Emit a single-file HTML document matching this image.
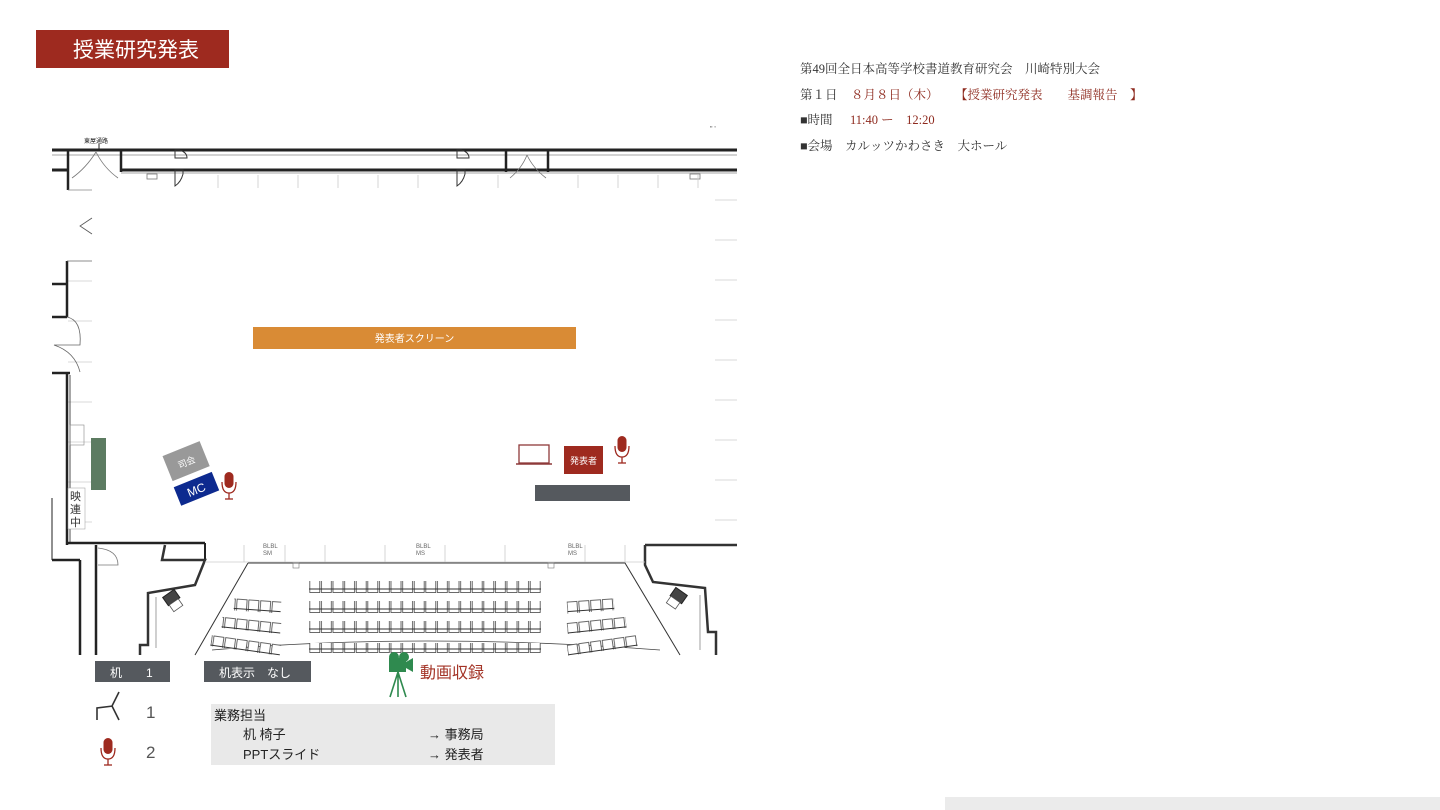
<!DOCTYPE html>
<html><head><meta charset="utf-8"><style>
body{margin:0;background:#fff;}
svg{display:block;font-family:"Liberation Sans","Noto Sans CJK JP",sans-serif;}
.s{font-family:"Liberation Serif","Noto Serif CJK SC",serif;}
</style></head><body>
<svg width="1440" height="810" viewBox="0 0 1440 810" xmlns="http://www.w3.org/2000/svg">
<defs>
<pattern id="seat" x="309" y="0" width="11.6" height="20" patternUnits="userSpaceOnUse">
<rect x="0.8" y="0.5" width="10" height="12" fill="#fff" stroke="#444" stroke-width="0.8"/>
<line x1="0" y1="9" x2="11.6" y2="9" stroke="#333" stroke-width="1"/>
</pattern>
<pattern id="seatL" x="0" y="0" width="11.8" height="20" patternUnits="userSpaceOnUse">
<rect x="0.8" y="0.5" width="10" height="13" fill="#fff" stroke="#444" stroke-width="0.8"/>
<line x1="0" y1="10" x2="11.8" y2="10" stroke="#333" stroke-width="1"/>
</pattern>
</defs>

<rect x="36" y="30" width="193" height="38" fill="#9e2a1f"/>
<text x="73" y="57" font-size="21" fill="#fff">授業研究発表</text>

<g class="s" font-size="12.5" fill="#333">
<text x="800" y="73" class="s">第49回全日本高等学校書道教育研究会　川崎特別大会</text>
<text x="800" y="99" class="s">第１日</text>
<text x="851" y="99" class="s" fill="#8e2a1e">８月８日（木）</text>
<text x="955" y="99" class="s" fill="#8e2a1e">【授業研究発表　　基調報告　】</text>
<text x="800" y="124" class="s">■時間</text>
<text x="850" y="124" class="s" fill="#8e2a1e">11:40 ー　12:20</text>
<text x="800" y="150" class="s">■会場　カルッツかわさき　大ホール</text>
</g>

<g stroke="#222" fill="none">
<line x1="52" y1="150" x2="737" y2="150" stroke-width="3"/>
<line x1="52" y1="155" x2="737" y2="155" stroke-width="0.7" stroke="#888"/>
<line x1="52" y1="170" x2="68" y2="170" stroke-width="3"/>
<line x1="121" y1="170" x2="737" y2="170" stroke-width="3"/>
<line x1="121" y1="173" x2="737" y2="173" stroke-width="0.7" stroke="#888"/>
<line x1="68" y1="150" x2="68" y2="190" stroke-width="2.5"/>
<line x1="68" y1="190" x2="92" y2="190" stroke-width="0.7" stroke="#888"/>
<line x1="121" y1="150" x2="121" y2="172" stroke-width="2.5"/>
<line x1="506" y1="150" x2="506" y2="172" stroke-width="2.5"/>
<line x1="548" y1="150" x2="548" y2="172" stroke-width="2.5"/>
<path d="M72 178 Q86 168 96 152 M118 178 Q104 168 96 152" stroke="#777" stroke-width="0.8"/>
<path d="M510 178 Q522 168 527 155 M546 178 Q533 168 527 155" stroke="#777" stroke-width="0.8"/>
<path d="M175 150 h4 q8 2 8 8 h-12 z M175 170 h8 v4 q-2 8 -8 12z" stroke="#333" stroke-width="1"/>
<path d="M457 150 h4 q8 2 8 8 h-12 z M457 170 h8 v4 q-2 8 -8 12z" stroke="#333" stroke-width="1"/>
<rect x="147" y="174" width="10" height="5" stroke="#777" stroke-width="0.8"/>
<rect x="690" y="174" width="10" height="5" stroke="#777" stroke-width="0.8"/>
</g>
<text x="84" y="143" font-size="6" fill="#222">東屋通路</text>
<line x1="99" y1="144" x2="99" y2="150" stroke="#222"/>
<g stroke="#ccc" stroke-width="0.8">
<line x1="218" y1="175" x2="218" y2="188"/><line x1="258" y1="175" x2="258" y2="188"/>
<line x1="298" y1="175" x2="298" y2="188"/><line x1="338" y1="175" x2="338" y2="188"/>
<line x1="378" y1="175" x2="378" y2="188"/><line x1="418" y1="175" x2="418" y2="188"/>
<line x1="498" y1="175" x2="498" y2="188"/><line x1="578" y1="175" x2="578" y2="188"/>
<line x1="618" y1="175" x2="618" y2="188"/><line x1="658" y1="175" x2="658" y2="188"/>
<line x1="698" y1="175" x2="698" y2="188"/>
<line x1="715" y1="200" x2="737" y2="200"/><line x1="715" y1="240" x2="737" y2="240"/>
<line x1="715" y1="280" x2="737" y2="280"/><line x1="715" y1="320" x2="737" y2="320"/>
<line x1="715" y1="360" x2="737" y2="360"/><line x1="715" y1="400" x2="737" y2="400"/>
<line x1="715" y1="440" x2="737" y2="440"/><line x1="715" y1="480" x2="737" y2="480"/>
<line x1="715" y1="520" x2="737" y2="520"/>
<line x1="68" y1="281" x2="92" y2="281"/><line x1="68" y1="321" x2="92" y2="321"/>
<line x1="68" y1="362" x2="92" y2="362"/><line x1="68" y1="402" x2="92" y2="402"/>
<line x1="68" y1="442" x2="92" y2="442"/><line x1="68" y1="482" x2="92" y2="482"/>
<line x1="68" y1="522" x2="92" y2="522"/>
</g>
<text x="710" y="131" font-size="7" fill="#555">" '</text>

<g stroke="#222" fill="none">
<path d="M92 218 L80 226 L92 234" stroke="#555" stroke-width="0.8"/>
<line x1="67" y1="261" x2="67" y2="317" stroke-width="2.5"/>
<line x1="67" y1="261" x2="92" y2="261" stroke-width="0.8" stroke="#666"/>
<line x1="52" y1="284" x2="67" y2="284" stroke-width="2.5"/>
<line x1="52" y1="317" x2="67" y2="317" stroke-width="2.5"/>
<path d="M67 317 Q82 320 80 345 Q65 345 54 345 Q75 352 80 372" stroke="#666" stroke-width="0.8"/>
<line x1="52" y1="373" x2="70" y2="373" stroke-width="2.5"/>
<line x1="67" y1="373" x2="67" y2="545" stroke-width="2.5"/>
<line x1="70" y1="375" x2="70" y2="543" stroke-width="0.8"/>
<line x1="67" y1="543" x2="205" y2="543" stroke-width="2.5"/>
<line x1="205" y1="543" x2="205" y2="560" stroke-width="2"/>
<line x1="52" y1="498" x2="52" y2="560" stroke-width="1"/>
<line x1="52" y1="560" x2="80" y2="560" stroke-width="2.5"/>
<line x1="80" y1="560" x2="80" y2="655" stroke-width="2.5"/>
<line x1="96" y1="545" x2="96" y2="655" stroke-width="2.5"/>
<path d="M98 548 Q118 550 118 565 L98 565" stroke="#777" stroke-width="0.8"/>
<path d="M165 545 L162 560 L205 560 L195 585 L148 593 L148 645 L140 645 L140 655" stroke="#333" stroke-width="2.5"/>
<path d="M156 597 L156 648" stroke="#888" stroke-width="0.8"/>
<path d="M645 545 L737 545 M645 545 L645 565 L653 582 L705 588 L708 632 L716 632 L716 655" stroke="#333" stroke-width="2.5"/>
<path d="M700 595 L700 650" stroke="#888" stroke-width="0.8"/>
</g>
<rect x="70" y="425" width="14" height="20" fill="none" stroke="#888" stroke-width="0.6"/>
<g font-size="11" fill="#333">
<rect x="68" y="488" width="17" height="41" fill="#fff" stroke="#999" stroke-width="0.5"/>
<text x="70" y="500">映</text><text x="70" y="513">連</text><text x="70" y="526">中</text>
</g>

<g stroke="#ccc" stroke-width="0.8">
<line x1="205" y1="562" x2="645" y2="562"/>
<line x1="244" y1="545" x2="244" y2="562"/><line x1="285" y1="545" x2="285" y2="562"/>
<line x1="325" y1="545" x2="325" y2="562"/><line x1="385" y1="545" x2="385" y2="562"/>
<line x1="445" y1="545" x2="445" y2="562"/><line x1="505" y1="545" x2="505" y2="562"/>
<line x1="585" y1="545" x2="585" y2="562"/><line x1="625" y1="545" x2="625" y2="562"/>
</g>
<g font-size="6" fill="#666">
<text x="263" y="548">BLBL</text><text x="263" y="555">SM</text>
<text x="416" y="548">BLBL</text><text x="416" y="555">MS</text>
<text x="568" y="548">BLBL</text><text x="568" y="555">MS</text>
</g>
<path d="M248 563 L625 563 L680 655 M248 563 L195 655" stroke="#333" stroke-width="1" fill="none"/>
<rect x="293" y="563" width="6" height="5" fill="none" stroke="#777" stroke-width="0.6"/>
<rect x="548" y="563" width="6" height="5" fill="none" stroke="#777" stroke-width="0.6"/>
<path d="M212 650 Q420 632 660 650" stroke="#444" stroke-width="0.8" fill="none"/>

<rect x="309" y="581" width="232" height="14" fill="url(#seat)"/>
<rect x="309" y="601" width="232" height="14" fill="url(#seat)"/>
<rect x="309" y="621" width="232" height="14" fill="url(#seat)"/>
<rect x="309" y="643" width="232" height="12" fill="url(#seat)"/>
<g transform="rotate(4 257 605)"><rect x="234" y="597" width="47" height="15" fill="url(#seatL)"/></g>
<g transform="rotate(6 252 624)"><rect x="222" y="616" width="59" height="15" fill="url(#seatL)"/></g>
<g transform="rotate(8 246 644)"><rect x="211" y="636" width="70" height="15" fill="url(#seatL)"/></g>
<g transform="rotate(-4 590 605)"><rect x="567" y="597" width="47" height="15" fill="url(#seatL)"/></g>
<g transform="rotate(-6 596 624)"><rect x="567" y="616" width="59" height="15" fill="url(#seatL)"/></g>
<g transform="rotate(-8 602 644)"><rect x="567" y="636" width="70" height="15" fill="url(#seatL)"/></g>

<g transform="rotate(-35 173 600)"><rect x="166" y="592" width="14" height="10" fill="#444" stroke="#222"/><rect x="167" y="602" width="11" height="8" fill="#fff" stroke="#555" stroke-width="0.8"/></g>
<g transform="rotate(35 677 598)"><rect x="670" y="590" width="14" height="10" fill="#444" stroke="#222"/><rect x="671" y="600" width="11" height="8" fill="#fff" stroke="#555" stroke-width="0.8"/></g>

<rect x="253" y="327" width="323" height="22" fill="#d98b35"/>
<text x="414.5" y="342" font-size="10" fill="#fff" text-anchor="middle">発表者スクリーン</text>

<rect x="91" y="438" width="15" height="52" fill="#5c7b61"/>

<g transform="rotate(-22 185 461)"><rect x="166" y="448" width="40" height="27" fill="#999"/><text x="186" y="466" font-size="9" fill="#fff" text-anchor="middle">司会</text></g>
<g transform="rotate(-22 196 489)"><rect x="176" y="479" width="41" height="20" fill="#0d2a8f"/><text x="196" y="494" font-size="12" fill="#fff" text-anchor="middle">MC</text></g>

<g id="mic" fill="#9e2a1f" stroke="#9e2a1f">
<rect x="224.5" y="472" width="9" height="16" rx="4.5" stroke="none"/>
<path d="M222 482 Q222 493 229 493 Q236 493 236 482" fill="none" stroke-width="1.3"/>
<line x1="229" y1="493" x2="229" y2="499" stroke-width="1.3"/>
<line x1="225" y1="499" x2="233" y2="499" stroke-width="1.3"/>
</g>
<use href="#mic" transform="translate(393 -36)"/>
<use href="#mic" transform="translate(-121 266)"/>

<rect x="519" y="445" width="30" height="18" fill="none" stroke="#8e3a3a" stroke-width="1.3"/>
<line x1="516" y1="464" x2="552" y2="464" stroke="#8e3a3a" stroke-width="1.5"/>
<rect x="564" y="446" width="39" height="28" fill="#9e2a1f"/>
<text x="583.5" y="464" font-size="9" fill="#fff" text-anchor="middle">発表者</text>
<rect x="535" y="485" width="95" height="16" fill="#55595e"/>

<rect x="95" y="661" width="75" height="21" fill="#55595e"/>
<text x="110" y="677" font-size="12" fill="#fff">机　　1</text>
<rect x="204" y="661" width="107" height="21" fill="#55595e"/>
<text x="219" y="677" font-size="12" fill="#fff">机表示　なし</text>
<path d="M97 720 L97 708 L113 706 M119 692 L112 706 L119 720" stroke="#333" stroke-width="1.6" fill="none"/>
<text x="146" y="718" font-size="17" fill="#555">1</text>
<text x="146" y="758" font-size="17" fill="#555">2</text>

<g fill="#2f8a4f" stroke="#2f8a4f">
<circle cx="394" cy="657" r="5" stroke="none"/><circle cx="404" cy="657" r="5" stroke="none"/>
<rect x="389" y="658" width="17" height="14" stroke="none"/>
<path d="M406 662 L413 658 L413 672 L406 668z" stroke="none"/>
<path d="M398 672 L390 697 M398 672 L398 697 M398 672 L406 697" stroke-width="1.6" fill="none"/>
</g>
<text x="420" y="678" font-size="16" fill="#a33326">動画収録</text>

<rect x="211" y="704" width="344" height="61" fill="#e9e9e9"/>
<g font-size="13" fill="#222">
<text x="214" y="720">業務担当</text>
<text x="243" y="739">机  椅子</text>
<text x="243" y="759">PPTスライド</text>
<text x="428" y="739">→ 事務局</text>
<text x="428" y="759">→ 発表者</text>
</g>

<rect x="945" y="797" width="495" height="13" fill="#ebebeb"/>
</svg>
</body></html>
